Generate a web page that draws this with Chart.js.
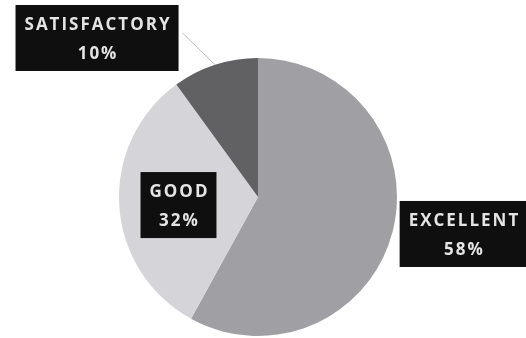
<!DOCTYPE html>
<html>
<head>
<meta charset="utf-8">
<script src="https://cdn.jsdelivr.net/npm/chart.js@4/dist/chart.umd.min.js"></script>
<style>
  html, body { margin: 0; padding: 0; background: #ffffff; }
  #wrap { width: 526px; height: 338px; position: relative; }
</style>
</head>
<body>
<div id="wrap"><canvas id="c" width="526" height="338"></canvas></div>
<script>
const categories = ["EXCELLENT", "GOOD", "SATISFACTORY"];
const values = [58, 32, 10];
const sliceColors = ["#a0a0a4", "#d5d5d9", "#616164"];
// label box centres expressed relative to pie centre, in units of radius
const labelAnchors = [
  { dx: 1.478, dy: 0.266 },
  { dx: -0.572, dy: 0.058 },
  { dx: -1.158, dy: -1.144 }
];

const labelPlugin = {
  id: 'boxLabels',
  afterDatasetsDraw(chart) {
    const ctx = chart.ctx;
    const meta = chart.getDatasetMeta(0);
    const arc0 = meta.data[0];
    const cx = arc0.x, cy = arc0.y, r = arc0.outerRadius;
    const total = values.reduce((a, b) => a + b, 0);
    ctx.save();
    ctx.font = 'bold 17px "Open Sans", "Liberation Sans", sans-serif';
    ctx.textAlign = 'center';
    ctx.textBaseline = 'middle';
    try { ctx.letterSpacing = '2px'; } catch (e) {}

    // leader line for satisfactory
    const a2 = meta.data[2];
    const mid = (a2.startAngle + a2.endAngle) / 2;
    const sw = ctx.measureText(categories[2]).width + 16;
    const sx = cx + labelAnchors[2].dx * r + sw / 2;
    const sy = cy + labelAnchors[2].dy * r - 5;
    ctx.strokeStyle = '#bdbdbd';
    ctx.lineWidth = 1;
    ctx.beginPath();
    ctx.moveTo(sx + 4, sy);
    ctx.lineTo(cx + Math.cos(mid) * r, cy + Math.sin(mid) * r);
    ctx.stroke();

    categories.forEach((cat, i) => {
      const pct = Math.round(values[i] / total * 100) + '%';
      const bx = cx + labelAnchors[i].dx * r;
      const by = cy + labelAnchors[i].dy * r;
      const w1 = ctx.measureText(cat).width;
      const bw = w1 + 16;
      const bh = 66;
      ctx.fillStyle = '#0f0f0f';
      ctx.fillRect(bx - bw / 2, by - bh / 2, bw, bh);
      ctx.fillStyle = '#e4e4e4';
      ctx.fillText(cat, bx + 1, by - 13);
      ctx.fillText(pct, bx + 1, by + 16);
    });
    ctx.restore();
  }
};

new Chart(document.getElementById('c'), {
  type: 'pie',
  data: {
    labels: categories,
    datasets: [{
      data: values,
      backgroundColor: sliceColors,
      borderWidth: 0
    }]
  },
  options: {
    responsive: false,
    animation: false,
    layout: { padding: { left: 119, right: 129, top: 58, bottom: 2 } },
    plugins: { legend: { display: false }, tooltip: { enabled: false } }
  },
  plugins: [labelPlugin]
});
</script>
</body>
</html>
